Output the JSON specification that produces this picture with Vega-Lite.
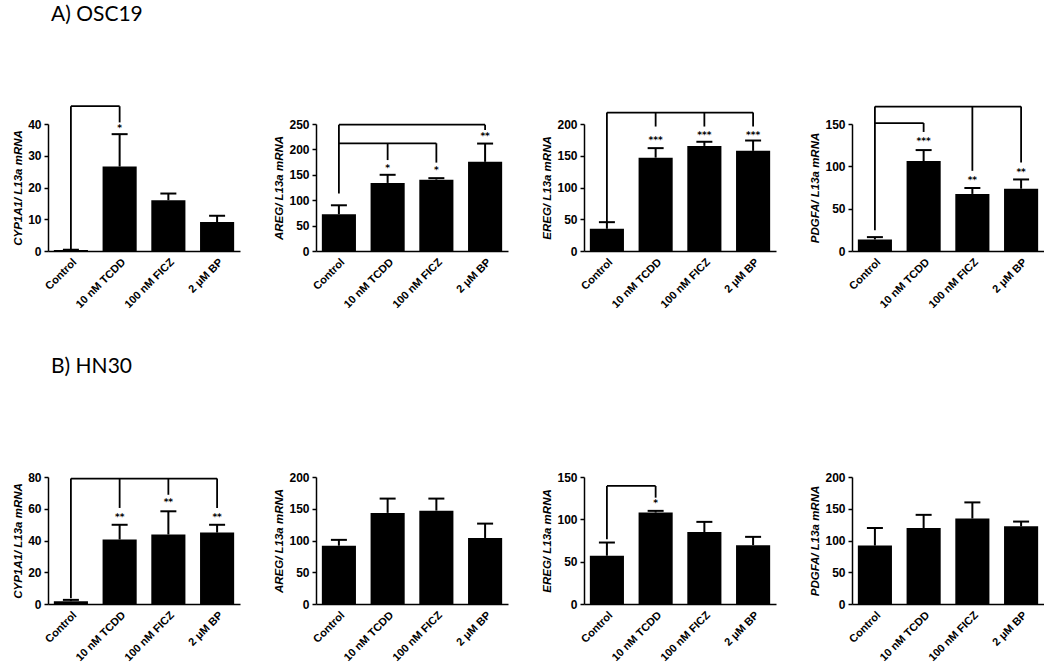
{
  "$schema": "https://vega.github.io/schema/vega-lite/v6.json",
  "background": "white",
  "padding": {"left": 12, "top": 4, "right": 0, "bottom": 0},
  "config": {
    "view": {"stroke": null},
    "font": "Liberation Sans",
    "axis": {
      "domainColor": "black", "domainWidth": 1.5, "tickColor": "black", "tickWidth": 1.5,
      "labelColor": "black", "labelFont": "Liberation Sans", "labelFontWeight": "bold", "labelFontSize": 11,
      "titleColor": "black", "titleFont": "Liberation Sans", "titleFontWeight": "bold", "titleFontSize": 11.5, "titleFontStyle": "italic",
      "grid": false
    },
    "axisX": {"ticks": false, "labelAngle": -45, "labelPadding": 5, "title": null},
    "axisY": {"tickSize": 4, "titlePadding": 4, "labelPadding": 3, "labelFontSize": 12, "labelOverlap": false},
    "title": {"font": "Lato", "fontSize": 21, "fontWeight": "normal", "color": "black", "anchor": "start", "frame": "group"}
  },
  "datasets": {
    "d": [
      {"p": "A1", "k": "bar", "c": "Control", "v": 0.3, "v2": 0.4},
      {"p": "A1", "k": "bar", "c": "10 nM TCDD", "v": 26.6, "v2": 36.8},
      {"p": "A1", "k": "bar", "c": "100 nM FICZ", "v": 16.0, "v2": 18.1},
      {"p": "A1", "k": "bar", "c": "2 μM BP", "v": 9.1, "v2": 11.1},
      {"p": "A2", "k": "bar", "c": "Control", "v": 72.4, "v2": 90},
      {"p": "A2", "k": "bar", "c": "10 nM TCDD", "v": 134, "v2": 150},
      {"p": "A2", "k": "bar", "c": "100 nM FICZ", "v": 140.5, "v2": 143.4},
      {"p": "A2", "k": "bar", "c": "2 μM BP", "v": 175.5, "v2": 211.5},
      {"p": "A3", "k": "bar", "c": "Control", "v": 35, "v2": 45.4},
      {"p": "A3", "k": "bar", "c": "10 nM TCDD", "v": 147, "v2": 162},
      {"p": "A3", "k": "bar", "c": "100 nM FICZ", "v": 165.5, "v2": 172},
      {"p": "A3", "k": "bar", "c": "2 μM BP", "v": 157.7, "v2": 174},
      {"p": "A4", "k": "bar", "c": "Control", "v": 13.6, "v2": 16.4},
      {"p": "A4", "k": "bar", "c": "10 nM TCDD", "v": 106.3, "v2": 119.2},
      {"p": "A4", "k": "bar", "c": "100 nM FICZ", "v": 67.4, "v2": 74.4},
      {"p": "A4", "k": "bar", "c": "2 μM BP", "v": 73.6, "v2": 84.5},
      {"p": "B1", "k": "bar", "c": "Control", "v": 1.8, "v2": 2.6},
      {"p": "B1", "k": "bar", "c": "10 nM TCDD", "v": 40.6, "v2": 49.9},
      {"p": "B1", "k": "bar", "c": "100 nM FICZ", "v": 43.8, "v2": 58.4},
      {"p": "B1", "k": "bar", "c": "2 μM BP", "v": 45, "v2": 49.9},
      {"p": "B2", "k": "bar", "c": "Control", "v": 91.8, "v2": 101},
      {"p": "B2", "k": "bar", "c": "10 nM TCDD", "v": 143.5, "v2": 166},
      {"p": "B2", "k": "bar", "c": "100 nM FICZ", "v": 147, "v2": 166},
      {"p": "B2", "k": "bar", "c": "2 μM BP", "v": 104, "v2": 126.6},
      {"p": "B3", "k": "bar", "c": "Control", "v": 57, "v2": 72.6},
      {"p": "B3", "k": "bar", "c": "10 nM TCDD", "v": 108, "v2": 110},
      {"p": "B3", "k": "bar", "c": "100 nM FICZ", "v": 85, "v2": 97},
      {"p": "B3", "k": "bar", "c": "2 μM BP", "v": 69.5, "v2": 79.3},
      {"p": "B4", "k": "bar", "c": "Control", "v": 92, "v2": 119.7},
      {"p": "B4", "k": "bar", "c": "10 nM TCDD", "v": 119.7, "v2": 140.4},
      {"p": "B4", "k": "bar", "c": "100 nM FICZ", "v": 134.6, "v2": 160},
      {"p": "B4", "k": "bar", "c": "2 μM BP", "v": 122.3, "v2": 129.8},

      {"p": "A1", "k": "cap", "c": "Control", "v": 0.4},
      {"p": "A1", "k": "cap", "c": "10 nM TCDD", "v": 36.8},
      {"p": "A1", "k": "cap", "c": "100 nM FICZ", "v": 18.1},
      {"p": "A1", "k": "cap", "c": "2 μM BP", "v": 11.1},
      {"p": "A2", "k": "cap", "c": "Control", "v": 90},
      {"p": "A2", "k": "cap", "c": "10 nM TCDD", "v": 150},
      {"p": "A2", "k": "cap", "c": "100 nM FICZ", "v": 143.4},
      {"p": "A2", "k": "cap", "c": "2 μM BP", "v": 211.5},
      {"p": "A3", "k": "cap", "c": "Control", "v": 45.4},
      {"p": "A3", "k": "cap", "c": "10 nM TCDD", "v": 162},
      {"p": "A3", "k": "cap", "c": "100 nM FICZ", "v": 172},
      {"p": "A3", "k": "cap", "c": "2 μM BP", "v": 174},
      {"p": "A4", "k": "cap", "c": "Control", "v": 16.4},
      {"p": "A4", "k": "cap", "c": "10 nM TCDD", "v": 119.2},
      {"p": "A4", "k": "cap", "c": "100 nM FICZ", "v": 74.4},
      {"p": "A4", "k": "cap", "c": "2 μM BP", "v": 84.5},
      {"p": "B1", "k": "cap", "c": "Control", "v": 2.6},
      {"p": "B1", "k": "cap", "c": "10 nM TCDD", "v": 49.9},
      {"p": "B1", "k": "cap", "c": "100 nM FICZ", "v": 58.4},
      {"p": "B1", "k": "cap", "c": "2 μM BP", "v": 49.9},
      {"p": "B2", "k": "cap", "c": "Control", "v": 101},
      {"p": "B2", "k": "cap", "c": "10 nM TCDD", "v": 166},
      {"p": "B2", "k": "cap", "c": "100 nM FICZ", "v": 166},
      {"p": "B2", "k": "cap", "c": "2 μM BP", "v": 126.6},
      {"p": "B3", "k": "cap", "c": "Control", "v": 72.6},
      {"p": "B3", "k": "cap", "c": "10 nM TCDD", "v": 110},
      {"p": "B3", "k": "cap", "c": "100 nM FICZ", "v": 97},
      {"p": "B3", "k": "cap", "c": "2 μM BP", "v": 79.3},
      {"p": "B4", "k": "cap", "c": "Control", "v": 119.7},
      {"p": "B4", "k": "cap", "c": "10 nM TCDD", "v": 140.4},
      {"p": "B4", "k": "cap", "c": "100 nM FICZ", "v": 160},
      {"p": "B4", "k": "cap", "c": "2 μM BP", "v": 129.8},

      {"p": "A1", "k": "h", "c": "Control", "c2": "10 nM TCDD", "v": 45.6},
      {"p": "A2", "k": "h", "c": "Control", "c2": "2 μM BP", "v": 248.7},
      {"p": "A2", "k": "h", "c": "Control", "c2": "100 nM FICZ", "v": 212},
      {"p": "A3", "k": "h", "c": "Control", "c2": "2 μM BP", "v": 218},
      {"p": "A4", "k": "h", "c": "Control", "c2": "2 μM BP", "v": 170.6},
      {"p": "A4", "k": "h", "c": "Control", "c2": "10 nM TCDD", "v": 151.1},
      {"p": "B1", "k": "h", "c": "Control", "c2": "2 μM BP", "v": 79},
      {"p": "B3", "k": "h", "c": "Control", "c2": "10 nM TCDD", "v": 139.4},

      {"p": "A1", "k": "drop", "c": "Control", "v": 0.5, "v2": 45.6},
      {"p": "A1", "k": "drop", "c": "10 nM TCDD", "v": 40.5, "v2": 45.6},
      {"p": "A2", "k": "drop", "c": "Control", "v": 113, "v2": 248.7},
      {"p": "A2", "k": "drop", "c": "2 μM BP", "v": 238, "v2": 248.7},
      {"p": "A2", "k": "drop", "c": "10 nM TCDD", "v": 179, "v2": 212},
      {"p": "A2", "k": "drop", "c": "100 nM FICZ", "v": 174, "v2": 212},
      {"p": "A3", "k": "drop", "c": "Control", "v": 45.4, "v2": 218},
      {"p": "A3", "k": "drop", "c": "10 nM TCDD", "v": 196, "v2": 218},
      {"p": "A3", "k": "drop", "c": "100 nM FICZ", "v": 196, "v2": 218},
      {"p": "A3", "k": "drop", "c": "2 μM BP", "v": 196, "v2": 218},
      {"p": "A4", "k": "drop", "c": "Control", "v": 24.5, "v2": 170.6},
      {"p": "A4", "k": "drop", "c": "10 nM TCDD", "v": 140.6, "v2": 151.1},
      {"p": "A4", "k": "drop", "c": "100 nM FICZ", "v": 94.7, "v2": 170.6},
      {"p": "A4", "k": "drop", "c": "2 μM BP", "v": 104.4, "v2": 170.6},
      {"p": "B1", "k": "drop", "c": "Control", "v": 3.6, "v2": 79},
      {"p": "B1", "k": "drop", "c": "10 nM TCDD", "v": 60.5, "v2": 79},
      {"p": "B1", "k": "drop", "c": "100 nM FICZ", "v": 68.8, "v2": 79},
      {"p": "B1", "k": "drop", "c": "2 μM BP", "v": 60.5, "v2": 79},
      {"p": "B3", "k": "drop", "c": "Control", "v": 76.5, "v2": 139.4},
      {"p": "B3", "k": "drop", "c": "10 nM TCDD", "v": 125.6, "v2": 139.4},

      {"p": "A1", "k": "sig", "c": "10 nM TCDD", "v": 38.6, "s": "*"},
      {"p": "A2", "k": "sig", "c": "10 nM TCDD", "v": 164, "s": "*"},
      {"p": "A2", "k": "sig", "c": "100 nM FICZ", "v": 160, "s": "*"},
      {"p": "A2", "k": "sig", "c": "2 μM BP", "v": 225.6, "s": "**"},
      {"p": "A3", "k": "sig", "c": "10 nM TCDD", "v": 175, "s": "***"},
      {"p": "A3", "k": "sig", "c": "100 nM FICZ", "v": 183, "s": "***"},
      {"p": "A3", "k": "sig", "c": "2 μM BP", "v": 183, "s": "***"},
      {"p": "A4", "k": "sig", "c": "10 nM TCDD", "v": 129.7, "s": "***"},
      {"p": "A4", "k": "sig", "c": "100 nM FICZ", "v": 84, "s": "**"},
      {"p": "A4", "k": "sig", "c": "2 μM BP", "v": 93.5, "s": "**"},
      {"p": "B1", "k": "sig", "c": "10 nM TCDD", "v": 54.6, "s": "**"},
      {"p": "B1", "k": "sig", "c": "100 nM FICZ", "v": 64, "s": "**"},
      {"p": "B1", "k": "sig", "c": "2 μM BP", "v": 54.6, "s": "**"},
      {"p": "B3", "k": "sig", "c": "10 nM TCDD", "v": 119, "s": "*"}
    ]
  },
  "vconcat": [
    {
      "title": {"text": "A) OSC19", "offset": 80, "dx": 3},
      "spacing": 33,
      "hconcat": [
        {
          "width": 192, "height": 127, "data": {"name": "d"}, "transform": [{"filter": "datum.p == 'A1'"}],
          "encoding": {
            "x": {"field": "c", "type": "nominal", "scale": {"domain": ["Control", "10 nM TCDD", "100 nM FICZ", "2 μM BP"], "paddingInner": 0.3, "paddingOuter": 0.12}},
            "y": {"field": "v", "type": "quantitative", "scale": {"domain": [0, 40], "nice": false}, "axis": {"title": "CYP1A1/ L13a mRNA", "values": [0, 10, 20, 30, 40], "labelOverlap": false}}
          },
          "layer": [
            {"transform": [{"filter": "datum.k == 'bar'"}], "mark": {"type": "bar", "color": "black"}},
            {"transform": [{"filter": "datum.k == 'bar'"}], "mark": {"type": "rule", "color": "black", "strokeWidth": 2, "clip": false}, "encoding": {"y2": {"field": "v2"}}},
            {"transform": [{"filter": "datum.k == 'cap'"}], "mark": {"type": "tick", "color": "black", "size": 16, "thickness": 2, "orient": "horizontal", "opacity": 1, "clip": false}},
            {"transform": [{"filter": "datum.k == 'h'"}], "mark": {"type": "rule", "color": "black", "strokeWidth": 1.8, "clip": false}, "encoding": {"x2": {"field": "c2"}}},
            {"transform": [{"filter": "datum.k == 'drop'"}], "mark": {"type": "rule", "color": "black", "strokeWidth": 1.8, "clip": false}, "encoding": {"y2": {"field": "v2"}}},
            {"transform": [{"filter": "datum.k == 'sig'"}], "mark": {"type": "text", "color": "black", "font": "DejaVu Sans", "fontSize": 9, "fontWeight": "bold", "baseline": "middle", "clip": false}, "encoding": {"text": {"field": "s"}}}
          ]
        },
        {
          "width": 192, "height": 127, "data": {"name": "d"}, "transform": [{"filter": "datum.p == 'A2'"}],
          "encoding": {
            "x": {"field": "c", "type": "nominal", "scale": {"domain": ["Control", "10 nM TCDD", "100 nM FICZ", "2 μM BP"], "paddingInner": 0.3, "paddingOuter": 0.12}},
            "y": {"field": "v", "type": "quantitative", "scale": {"domain": [0, 250], "nice": false}, "axis": {"title": "AREG/ L13a mRNA", "values": [0, 50, 100, 150, 200, 250], "labelOverlap": false}}
          },
          "layer": [
            {"transform": [{"filter": "datum.k == 'bar'"}], "mark": {"type": "bar", "color": "black"}},
            {"transform": [{"filter": "datum.k == 'bar'"}], "mark": {"type": "rule", "color": "black", "strokeWidth": 2, "clip": false}, "encoding": {"y2": {"field": "v2"}}},
            {"transform": [{"filter": "datum.k == 'cap'"}], "mark": {"type": "tick", "color": "black", "size": 16, "thickness": 2, "orient": "horizontal", "opacity": 1, "clip": false}},
            {"transform": [{"filter": "datum.k == 'h'"}], "mark": {"type": "rule", "color": "black", "strokeWidth": 1.8, "clip": false}, "encoding": {"x2": {"field": "c2"}}},
            {"transform": [{"filter": "datum.k == 'drop'"}], "mark": {"type": "rule", "color": "black", "strokeWidth": 1.8, "clip": false}, "encoding": {"y2": {"field": "v2"}}},
            {"transform": [{"filter": "datum.k == 'sig'"}], "mark": {"type": "text", "color": "black", "font": "DejaVu Sans", "fontSize": 9, "fontWeight": "bold", "baseline": "middle", "clip": false}, "encoding": {"text": {"field": "s"}}}
          ]
        },
        {
          "width": 192, "height": 127, "data": {"name": "d"}, "transform": [{"filter": "datum.p == 'A3'"}],
          "encoding": {
            "x": {"field": "c", "type": "nominal", "scale": {"domain": ["Control", "10 nM TCDD", "100 nM FICZ", "2 μM BP"], "paddingInner": 0.3, "paddingOuter": 0.12}},
            "y": {"field": "v", "type": "quantitative", "scale": {"domain": [0, 200], "nice": false}, "axis": {"title": "EREG/ L13a mRNA", "values": [0, 50, 100, 150, 200], "labelOverlap": false}}
          },
          "layer": [
            {"transform": [{"filter": "datum.k == 'bar'"}], "mark": {"type": "bar", "color": "black"}},
            {"transform": [{"filter": "datum.k == 'bar'"}], "mark": {"type": "rule", "color": "black", "strokeWidth": 2, "clip": false}, "encoding": {"y2": {"field": "v2"}}},
            {"transform": [{"filter": "datum.k == 'cap'"}], "mark": {"type": "tick", "color": "black", "size": 16, "thickness": 2, "orient": "horizontal", "opacity": 1, "clip": false}},
            {"transform": [{"filter": "datum.k == 'h'"}], "mark": {"type": "rule", "color": "black", "strokeWidth": 1.8, "clip": false}, "encoding": {"x2": {"field": "c2"}}},
            {"transform": [{"filter": "datum.k == 'drop'"}], "mark": {"type": "rule", "color": "black", "strokeWidth": 1.8, "clip": false}, "encoding": {"y2": {"field": "v2"}}},
            {"transform": [{"filter": "datum.k == 'sig'"}], "mark": {"type": "text", "color": "black", "font": "DejaVu Sans", "fontSize": 9, "fontWeight": "bold", "baseline": "middle", "clip": false}, "encoding": {"text": {"field": "s"}}}
          ]
        },
        {
          "width": 192, "height": 127, "data": {"name": "d"}, "transform": [{"filter": "datum.p == 'A4'"}],
          "encoding": {
            "x": {"field": "c", "type": "nominal", "scale": {"domain": ["Control", "10 nM TCDD", "100 nM FICZ", "2 μM BP"], "paddingInner": 0.3, "paddingOuter": 0.12}},
            "y": {"field": "v", "type": "quantitative", "scale": {"domain": [0, 150], "nice": false}, "axis": {"title": "PDGFA/ L13a mRNA", "values": [0, 50, 100, 150], "labelOverlap": false}}
          },
          "layer": [
            {"transform": [{"filter": "datum.k == 'bar'"}], "mark": {"type": "bar", "color": "black"}},
            {"transform": [{"filter": "datum.k == 'bar'"}], "mark": {"type": "rule", "color": "black", "strokeWidth": 2, "clip": false}, "encoding": {"y2": {"field": "v2"}}},
            {"transform": [{"filter": "datum.k == 'cap'"}], "mark": {"type": "tick", "color": "black", "size": 16, "thickness": 2, "orient": "horizontal", "opacity": 1, "clip": false}},
            {"transform": [{"filter": "datum.k == 'h'"}], "mark": {"type": "rule", "color": "black", "strokeWidth": 1.8, "clip": false}, "encoding": {"x2": {"field": "c2"}}},
            {"transform": [{"filter": "datum.k == 'drop'"}], "mark": {"type": "rule", "color": "black", "strokeWidth": 1.8, "clip": false}, "encoding": {"y2": {"field": "v2"}}},
            {"transform": [{"filter": "datum.k == 'sig'"}], "mark": {"type": "text", "color": "black", "font": "DejaVu Sans", "fontSize": 9, "fontWeight": "bold", "baseline": "middle", "clip": false}, "encoding": {"text": {"field": "s"}}}
          ]
        }
      ]
    },
    {
      "title": {"text": "B) HN30", "offset": 94, "dx": 3},
      "spacing": 33,
      "hconcat": [
        {
          "width": 192, "height": 127, "data": {"name": "d"}, "transform": [{"filter": "datum.p == 'B1'"}],
          "encoding": {
            "x": {"field": "c", "type": "nominal", "scale": {"domain": ["Control", "10 nM TCDD", "100 nM FICZ", "2 μM BP"], "paddingInner": 0.3, "paddingOuter": 0.12}},
            "y": {"field": "v", "type": "quantitative", "scale": {"domain": [0, 80], "nice": false}, "axis": {"title": "CYP1A1/ L13a mRNA", "values": [0, 20, 40, 60, 80], "labelOverlap": false}}
          },
          "layer": [
            {"transform": [{"filter": "datum.k == 'bar'"}], "mark": {"type": "bar", "color": "black"}},
            {"transform": [{"filter": "datum.k == 'bar'"}], "mark": {"type": "rule", "color": "black", "strokeWidth": 2, "clip": false}, "encoding": {"y2": {"field": "v2"}}},
            {"transform": [{"filter": "datum.k == 'cap'"}], "mark": {"type": "tick", "color": "black", "size": 16, "thickness": 2, "orient": "horizontal", "opacity": 1, "clip": false}},
            {"transform": [{"filter": "datum.k == 'h'"}], "mark": {"type": "rule", "color": "black", "strokeWidth": 1.8, "clip": false}, "encoding": {"x2": {"field": "c2"}}},
            {"transform": [{"filter": "datum.k == 'drop'"}], "mark": {"type": "rule", "color": "black", "strokeWidth": 1.8, "clip": false}, "encoding": {"y2": {"field": "v2"}}},
            {"transform": [{"filter": "datum.k == 'sig'"}], "mark": {"type": "text", "color": "black", "font": "DejaVu Sans", "fontSize": 9, "fontWeight": "bold", "baseline": "middle", "clip": false}, "encoding": {"text": {"field": "s"}}}
          ]
        },
        {
          "width": 192, "height": 127, "data": {"name": "d"}, "transform": [{"filter": "datum.p == 'B2'"}],
          "encoding": {
            "x": {"field": "c", "type": "nominal", "scale": {"domain": ["Control", "10 nM TCDD", "100 nM FICZ", "2 μM BP"], "paddingInner": 0.3, "paddingOuter": 0.12}},
            "y": {"field": "v", "type": "quantitative", "scale": {"domain": [0, 200], "nice": false}, "axis": {"title": "AREG/ L13a mRNA", "values": [0, 50, 100, 150, 200], "labelOverlap": false}}
          },
          "layer": [
            {"transform": [{"filter": "datum.k == 'bar'"}], "mark": {"type": "bar", "color": "black"}},
            {"transform": [{"filter": "datum.k == 'bar'"}], "mark": {"type": "rule", "color": "black", "strokeWidth": 2, "clip": false}, "encoding": {"y2": {"field": "v2"}}},
            {"transform": [{"filter": "datum.k == 'cap'"}], "mark": {"type": "tick", "color": "black", "size": 16, "thickness": 2, "orient": "horizontal", "opacity": 1, "clip": false}}
          ]
        },
        {
          "width": 192, "height": 127, "data": {"name": "d"}, "transform": [{"filter": "datum.p == 'B3'"}],
          "encoding": {
            "x": {"field": "c", "type": "nominal", "scale": {"domain": ["Control", "10 nM TCDD", "100 nM FICZ", "2 μM BP"], "paddingInner": 0.3, "paddingOuter": 0.12}},
            "y": {"field": "v", "type": "quantitative", "scale": {"domain": [0, 150], "nice": false}, "axis": {"title": "EREG/ L13a mRNA", "values": [0, 50, 100, 150], "labelOverlap": false}}
          },
          "layer": [
            {"transform": [{"filter": "datum.k == 'bar'"}], "mark": {"type": "bar", "color": "black"}},
            {"transform": [{"filter": "datum.k == 'bar'"}], "mark": {"type": "rule", "color": "black", "strokeWidth": 2, "clip": false}, "encoding": {"y2": {"field": "v2"}}},
            {"transform": [{"filter": "datum.k == 'cap'"}], "mark": {"type": "tick", "color": "black", "size": 16, "thickness": 2, "orient": "horizontal", "opacity": 1, "clip": false}},
            {"transform": [{"filter": "datum.k == 'h'"}], "mark": {"type": "rule", "color": "black", "strokeWidth": 1.8, "clip": false}, "encoding": {"x2": {"field": "c2"}}},
            {"transform": [{"filter": "datum.k == 'drop'"}], "mark": {"type": "rule", "color": "black", "strokeWidth": 1.8, "clip": false}, "encoding": {"y2": {"field": "v2"}}},
            {"transform": [{"filter": "datum.k == 'sig'"}], "mark": {"type": "text", "color": "black", "font": "DejaVu Sans", "fontSize": 9, "fontWeight": "bold", "baseline": "middle", "clip": false}, "encoding": {"text": {"field": "s"}}}
          ]
        },
        {
          "width": 192, "height": 127, "data": {"name": "d"}, "transform": [{"filter": "datum.p == 'B4'"}],
          "encoding": {
            "x": {"field": "c", "type": "nominal", "scale": {"domain": ["Control", "10 nM TCDD", "100 nM FICZ", "2 μM BP"], "paddingInner": 0.3, "paddingOuter": 0.12}},
            "y": {"field": "v", "type": "quantitative", "scale": {"domain": [0, 200], "nice": false}, "axis": {"title": "PDGFA/ L13a mRNA", "values": [0, 50, 100, 150, 200], "labelOverlap": false}}
          },
          "layer": [
            {"transform": [{"filter": "datum.k == 'bar'"}], "mark": {"type": "bar", "color": "black"}},
            {"transform": [{"filter": "datum.k == 'bar'"}], "mark": {"type": "rule", "color": "black", "strokeWidth": 2, "clip": false}, "encoding": {"y2": {"field": "v2"}}},
            {"transform": [{"filter": "datum.k == 'cap'"}], "mark": {"type": "tick", "color": "black", "size": 16, "thickness": 2, "orient": "horizontal", "opacity": 1, "clip": false}}
          ]
        }
      ]
    }
  ],
  "spacing": 46
}
